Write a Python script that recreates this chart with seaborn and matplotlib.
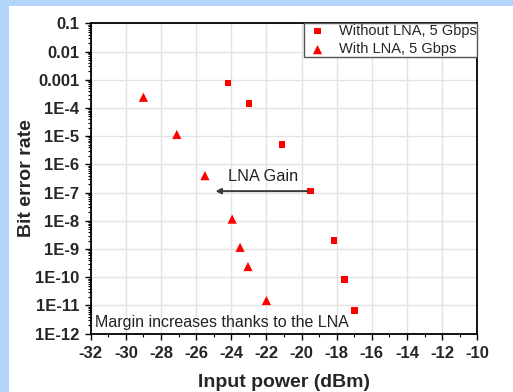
import matplotlib
matplotlib.use("Agg")
import matplotlib.pyplot as plt
import matplotlib.ticker as mticker
from matplotlib.patches import Rectangle
import seaborn as sns
import numpy as np
import pandas as pd

sns.set_theme(style="whitegrid")
plt.rcParams['font.family'] = ['Liberation Sans', 'DejaVu Sans']

# data
power_no_lna = [-24.2, -23.0, -21.1, -19.5, -18.15, -17.55, -17.0]
ber_no_lna = [7.7e-4, 1.45e-4, 5.1e-6, 1.15e-7, 2.0e-9, 8.5e-11, 6.7e-12]
power_lna = [-29.0, -27.1, -25.5, -23.95, -23.5, -23.05, -22.0]
ber_lna = [2.4e-4, 1.15e-5, 4.0e-7, 1.15e-8, 1.15e-9, 2.4e-10, 1.5e-11]

y_ticks = [1e-12, 1e-11, 1e-10, 1e-9, 1e-8, 1e-7, 1e-6, 1e-5, 1e-4, 1e-3, 1e-2, 1e-1]
y_labels = ['1E-12', '1E-11', '1E-10', '1E-9', '1E-8', '1E-7', '1E-6',
            '1E-5', '1E-4', '0.001', '0.01', '0.1']
x_ticks = list(range(-32, -9, 2))

df1 = pd.DataFrame({'power': power_no_lna, 'ber': ber_no_lna})
df2 = pd.DataFrame({'power': power_lna, 'ber': ber_lna})

fig = plt.figure(figsize=(5.13, 3.92), dpi=100)
fig.patch.set_facecolor('white')
# light blue frame on the left and top
fig.patches.append(Rectangle((0, 0), 9 / 513, 1, transform=fig.transFigure,
                             facecolor='#b4d5fb', edgecolor='none', zorder=-1))
fig.patches.append(Rectangle((0, 1 - 6 / 392), 1, 6 / 392, transform=fig.transFigure,
                             facecolor='#b4d5fb', edgecolor='none', zorder=-1))

ax = fig.add_axes([0.1768, 0.1487, 0.9304 - 0.1768, 0.9405 - 0.1487])
ax.set_facecolor('white')

sns.scatterplot(data=df1, x='power', y='ber', marker='s', color='red', s=22,
                edgecolor='none', label='Without LNA, 5 Gbps', ax=ax, zorder=3)
sns.scatterplot(data=df2, x='power', y='ber', marker='^', color='red', s=44,
                edgecolor='none', label='With LNA, 5 Gbps', ax=ax, zorder=3)

ax.set_yscale('log')
ax.set_xlim(-32, -10)
ax.set_ylim(1e-12, 1e-1)
ax.set_xticks(x_ticks)
ax.set_xticklabels([str(v) for v in x_ticks])
ax.set_yticks(y_ticks)
ax.set_yticklabels(y_labels)
ax.xaxis.set_minor_locator(mticker.MultipleLocator(1))
ax.yaxis.set_minor_locator(mticker.LogLocator(base=10, subs=np.arange(2, 10), numticks=20))
ax.yaxis.set_minor_formatter(mticker.NullFormatter())

ax.grid(True, which='major', color='#e3e3e3', linewidth=1.0)
ax.grid(False, which='minor')
for side in ['top', 'right', 'bottom', 'left']:
    ax.spines[side].set_visible(True)
    ax.spines[side].set_color('black')
    ax.spines[side].set_linewidth(1.3)

ax.tick_params(axis='both', which='major', direction='out', length=4, width=1,
               color='black', labelsize=12, bottom=True, left=True)
ax.tick_params(axis='y', which='major', pad=4)
ax.tick_params(axis='x', which='major', pad=5)
ax.tick_params(axis='both', which='minor', direction='out', length=2, width=0.8,
               color='black', bottom=True, left=True)
for lab in ax.get_xticklabels() + ax.get_yticklabels():
    lab.set_fontweight('bold')

ax.set_xlabel('Input power (dBm)', fontsize=14, fontweight='bold', labelpad=9)
ax.set_ylabel('Bit error rate', fontsize=14, fontweight='bold', labelpad=0)

ax.annotate('', xy=(-24.9, 1.13e-7), xytext=(-19.65, 1.13e-7),
            arrowprops=dict(arrowstyle='-|>', color='#3a3a3a', lw=1.4,
                            mutation_scale=8, shrinkA=0, shrinkB=0))
ax.text(-24.2, 3.6e-7, 'LNA Gain', fontsize=11.7, va='center', ha='left', color='#222222')
ax.text(-31.75, 2.6e-12, 'Margin increases thanks to the LNA', fontsize=11.5,
        va='center', ha='left', color='#222222')

leg = ax.legend(loc='upper right', fontsize=10.5, frameon=True, fancybox=False,
                borderaxespad=0, handletextpad=0.55, borderpad=0.05, labelspacing=0.3,
                handlelength=1.8)
leg.get_frame().set_edgecolor('#555555')
leg.get_frame().set_linewidth(1.0)
leg.get_frame().set_facecolor('white')
leg.get_frame().set_alpha(1)

fig.savefig('out.png', dpi=100, facecolor=fig.get_facecolor())
